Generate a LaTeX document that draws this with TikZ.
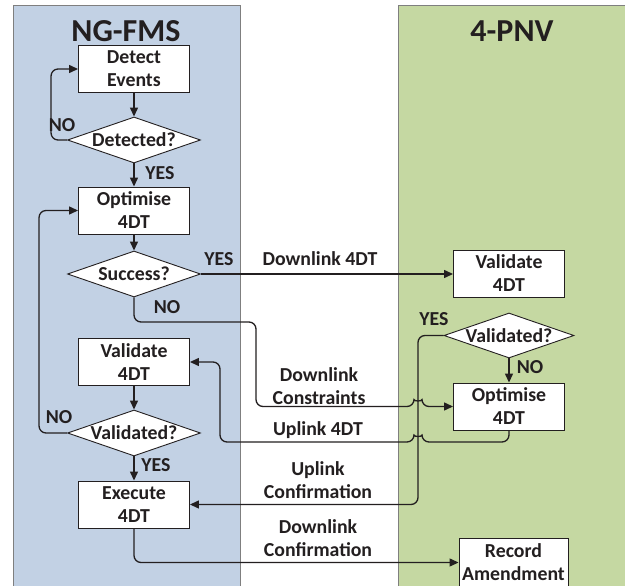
\documentclass[tikz,border=0pt]{standalone}
\usepackage{fontspec}
\setmainfont{Carlito}
\usetikzlibrary{shapes.geometric,arrows.meta}
\definecolor{laneblue}{HTML}{C2D1E4}
\definecolor{lanegreen}{HTML}{C5D8A2}
\definecolor{laneedge}{HTML}{7F7F7F}
\definecolor{ink}{HTML}{231F20}
\begin{document}
\begin{tikzpicture}[x=1pt,y=-1pt,
  font=\fontsize{19.8}{23}\selectfont\bfseries, text=ink,
  lane/.style={draw=laneedge, line width=1pt},
  title/.style={font=\fontsize{32}{36}\selectfont\bfseries},
  box/.style={draw=ink, fill=white, line width=0.9pt, minimum width=111pt,
    minimum height=47pt, inner sep=0pt, align=center},
  dia/.style={diamond, draw=ink, fill=white, line width=0.9pt,
    minimum width=133pt, minimum height=46pt, inner sep=0pt},
  flow/.style={draw=ink, line width=1.3pt, rounded corners=7pt},
  arr/.style={flow, -{Triangle[length=9pt,width=8pt]}},
  tag/.style={align=center, inner sep=0pt}]
\useasboundingbox (0,0) rectangle (625,586);

% swim lanes
\fill[white] (0,0) rectangle (625,586);
\filldraw[lane, fill=laneblue] (13,6) rectangle (240,600);
\filldraw[lane, fill=lanegreen] (398,6) rectangle (640,600);
\node[title] (t1) at (126,31) {NG-FMS};
\node[title] (t2) at (512,31) {4-PNV};

% NG-FMS side
\node[box] (detect) at (134,69) {Detect\\Events};
\node[dia, label={center:Detected?}] (d1) at (134,140) {};
\node[box] (opt1) at (134,210.5) {Optimise\\4DT};
\node[dia, label={center:Success?}] (d2) at (134,274) {};
\node[box] (val1) at (134,362) {Validate\\4DT};
\node[dia, label={center:Validated?}] (d3) at (134,433) {};
\node[box] (exec) at (134,504.5) {Execute\\4DT};

% 4-PNV side
\node[box] (val2) at (509,273.5) {Validate\\4DT};
\node[dia, minimum width=130pt, minimum height=45pt, label={center:Validated?}] (d4) at (509,335.5) {};
\node[box] (opt2) at (509,406.5) {Optimise\\4DT};
\node[box, minimum width=109pt, minimum height=49pt] (rec) at (513.5,562.5) {Record\\Amendment};

% flow on the NG-FMS side
\draw[arr] (detect) -- (d1);
\draw[arr] (d1.west) -- ++(-16,0) |- (detect.west);
\draw[arr] (d1) -- (opt1);
\draw[arr] (opt1) -- (d2);
\draw[arr] (val1) -- (d3);
\draw[arr] (d3.west) -- ++(-28,0) |- (opt1.west);
\draw[arr] (d3) -- (exec);

% exchanges between the two sides
\draw[arr] (d2.east) -- (d2.east -| val2.west);
\draw[arr] (d2.south) |- (256,322) -- (256,406.5) -- (414,406.5)
  .. controls (414,401.5) and (422,401.5) .. (422,406.5) -- (opt2.west);
\draw[arr] (d4) -- (opt2);
\draw[arr] (opt2.south) |- (422,442)
  .. controls (422,437) and (414,437) .. (414,442) -- (220,442) |- (val1.east);
\draw[arr] (d4.west) -- (418,335.5) |- (exec.east);
\draw[arr] (exec.south) |- (rec.west);

% decision labels
\node[tag] (n1) at (62,125) {NO};
\node[tag] (y1) at (160,173) {YES};
\node[tag] (y2) at (219,259) {YES};
\node[tag] (n2) at (167,307) {NO};
\node[tag] (n3) at (59,417) {NO};
\node[tag] (y3) at (156,465) {YES};
\node[tag] (y4) at (434,319) {YES};
\node[tag] (n4) at (530,367) {NO};

% message labels
\node[tag] (m1) at (320,259) {Downlink 4DT};
\node[tag] (m2) at (319,386) {Downlink\\Constraints};
\node[tag] (m3) at (318,430) {Uplink 4DT};
\node[tag] (m4) at (318,480) {Uplink\\Confirmation};
\node[tag] (m5) at (318,538) {Downlink\\Confirmation};
\end{tikzpicture}
\end{document}
